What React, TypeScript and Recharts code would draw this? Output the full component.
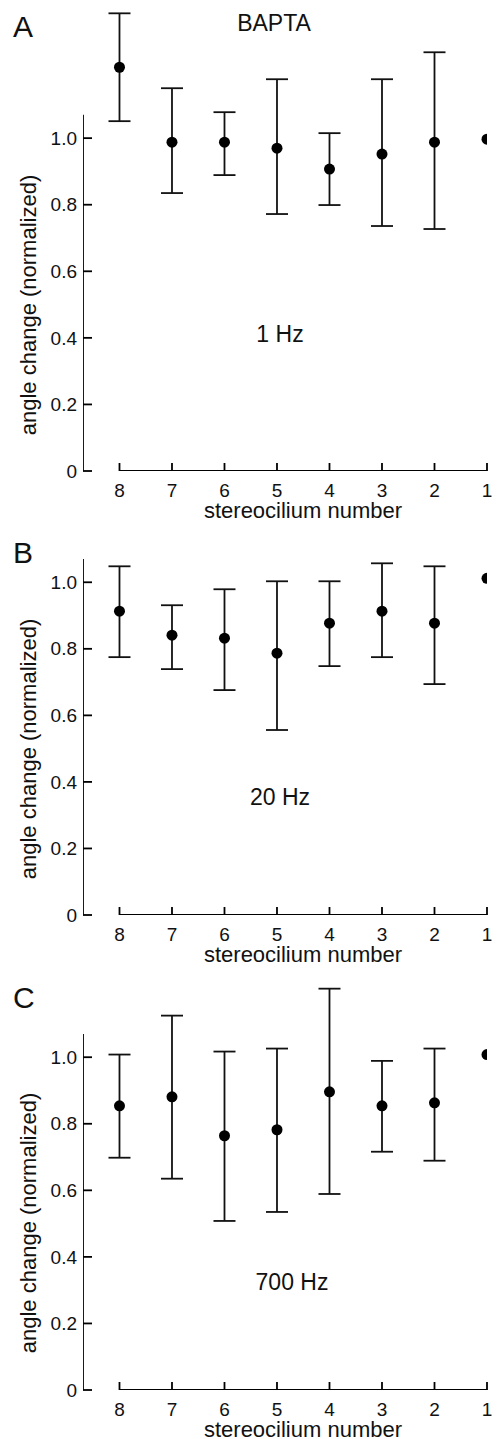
import React from 'react';
import {
  ComposedChart,
  Scatter,
  ErrorBar,
  XAxis,
  YAxis,
} from 'recharts';

// stereocilium positions, left to right
const stereocilia = [8, 7, 6, 5, 4, 3, 2, 1];
const yTicks = [0, 0.2, 0.4, 0.6, 0.8, 1.0];

// A: BAPTA, 1 Hz
const meanA = [1.213, 0.988, 0.988, 0.97, 0.907, 0.952, 0.988, 0.997];
const upperA = [1.375, 1.15, 1.078, 1.177, 1.015, 1.177, 1.258, null];
const lowerA = [1.051, 0.835, 0.889, 0.772, 0.799, 0.736, 0.727, null];

// B: 20 Hz
const meanB = [0.913, 0.841, 0.832, 0.787, 0.877, 0.913, 0.877, 1.012];
const upperB = [1.048, 0.931, 0.979, 1.003, 1.003, 1.057, 1.048, null];
const lowerB = [0.775, 0.739, 0.676, 0.556, 0.748, 0.775, 0.694, null];

// C: 700 Hz
const meanC = [0.854, 0.881, 0.764, 0.782, 0.896, 0.854, 0.863, 1.008];
const upperC = [1.008, 1.125, 1.017, 1.026, 1.206, 0.989, 1.026, null];
const lowerC = [0.698, 0.635, 0.508, 0.535, 0.589, 0.716, 0.689, null];

const FONT = 'Arial, "Liberation Sans", Helvetica, sans-serif';
const W = 498;
const PLOT_LEFT = 83;
const MARGIN_RIGHT = 11;
const X_AXIS_H = 30;
const X_MAX = 8.695;
const Y_LINE_TOP = 1.07;
const STROKE = 1.8;

// axis lines drawn through the scales (detached axes, like the original)
const yAxisLine = [{ x: X_MAX, y: 0 }, { x: X_MAX, y: Y_LINE_TOP }];
const xAxisLine = [{ x: 8, y: 0 }, { x: 1, y: 0 }];

function buildRows(mean: number[], upper: (number | null)[], lower: (number | null)[]) {
  return stereocilia.map((n, i) => ({
    x: n,
    y: mean[i],
    err: upper[i] == null || lower[i] == null ? null : [mean[i] - (lower[i] as number), (upper[i] as number) - mean[i]],
  }));
}

const Dot = (props: any) => <circle cx={props.cx} cy={props.cy} r={5.5} fill="#000" />;
const NoDot = () => <g />;

const YTick = (props: any) => {
  const { y, payload } = props;
  const v = payload.value;
  return (
    <g>
      <line x1={PLOT_LEFT} x2={PLOT_LEFT + 9} y1={y} y2={y} stroke="#000" strokeWidth={STROKE} />
      <text x={PLOT_LEFT - 6} y={y} dy="0.35em" textAnchor="end" fontSize={19} fontFamily={FONT} fill="#111">
        {v === 0 ? '0' : v.toFixed(1)}
      </text>
    </g>
  );
};

const makeXTick = (bottom: number) => (props: any) => {
  const { x, payload } = props;
  return (
    <g>
      <line x1={x} x2={x} y1={bottom} y2={bottom - 8} stroke="#000" strokeWidth={STROKE} />
      <text x={x} y={bottom + 26} textAnchor="middle" fontSize={19} fontFamily={FONT} fill="#111">
        {payload.value}
      </text>
    </g>
  );
};

interface PanelProps {
  top: number;
  height: number;
  zero: number;
  marginTop: number;
  yMax: number;
  rows: ReturnType<typeof buildRows>;
  letter: string;
  letterY: number;
  freq: string;
  freqX: number;
  freqY: number;
  labelMid: number;
  title?: string;
}

function Panel(p: PanelProps) {
  const txt = { fontFamily: FONT, fill: '#111' };
  return (
    <div style={{ position: 'absolute', left: 0, top: p.top, width: W, height: p.height }}>
      <ComposedChart
        width={W}
        height={p.height}
        margin={{ top: p.marginTop, right: MARGIN_RIGHT, bottom: p.height - p.zero - X_AXIS_H, left: 0 }}
      >
        <XAxis
          type="number"
          dataKey="x"
          domain={[1, X_MAX]}
          reversed
          ticks={stereocilia}
          height={X_AXIS_H}
          axisLine={false}
          tickLine={false}
          tick={makeXTick(p.zero)}
          interval={0}
          allowDataOverflow
        />
        <YAxis
          type="number"
          dataKey="y"
          domain={[0, p.yMax]}
          ticks={yTicks}
          width={PLOT_LEFT}
          axisLine={false}
          tickLine={false}
          tick={<YTick />}
          interval={0}
          allowDataOverflow
        />
        <Scatter
          data={yAxisLine}
          dataKey="y"
          line={{ stroke: '#000', strokeWidth: STROKE }}
          lineType="joint"
          shape={<NoDot />}
          isAnimationActive={false}
        />
        <Scatter
          data={xAxisLine}
          dataKey="y"
          line={{ stroke: '#000', strokeWidth: STROKE }}
          lineType="joint"
          shape={<NoDot />}
          isAnimationActive={false}
        />
        <Scatter data={p.rows} dataKey="y" shape={<Dot />} isAnimationActive={false}>
          <ErrorBar dataKey="err" direction="y" width={11} stroke="#111" strokeWidth={STROKE} isAnimationActive={false} />
        </Scatter>
        <text x={13} y={p.letterY} fontSize={30} {...txt}>{p.letter}</text>
        {p.title && (
          <text x={274} y={31} fontSize={23} textAnchor="middle" {...txt}>{p.title}</text>
        )}
        <text x={p.freqX} y={p.freqY} fontSize={23} textAnchor="middle" {...txt}>{p.freq}</text>
        <text x={303} y={p.zero + 47} fontSize={22} textAnchor="middle" {...txt}>stereocilium number</text>
        <text
          transform={`translate(28, ${p.labelMid}) rotate(-90)`}
          textAnchor="middle"
          dominantBaseline="central"
          fontSize={22}
          {...txt}
        >
          angle change (normalized)
        </text>
      </ComposedChart>
    </div>
  );
}

export default function App() {
  return (
    <div style={{ position: 'absolute', left: 0, top: 0, width: W, height: 1439, background: '#fff' }}>
      <Panel
        top={0}
        height={528}
        zero={471}
        marginTop={5}
        yMax={1.4}
        rows={buildRows(meanA, upperA, lowerA)}
        letter="A"
        letterY={37}
        title="BAPTA"
        freq="1 Hz"
        freqX={280}
        freqY={342}
        labelMid={305}
      />
      <Panel
        top={528}
        height={447}
        zero={387}
        marginTop={21}
        yMax={1.1}
        rows={buildRows(meanB, upperB, lowerB)}
        letter="B"
        letterY={35}
        freq="20 Hz"
        freqX={280}
        freqY={277}
        labelMid={221}
      />
      <Panel
        top={975}
        height={464}
        zero={415}
        marginTop={9}
        yMax={1.22}
        rows={buildRows(meanC, upperC, lowerC)}
        letter="C"
        letterY={33}
        freq="700 Hz"
        freqX={292}
        freqY={315}
        labelMid={248}
      />
    </div>
  );
}
